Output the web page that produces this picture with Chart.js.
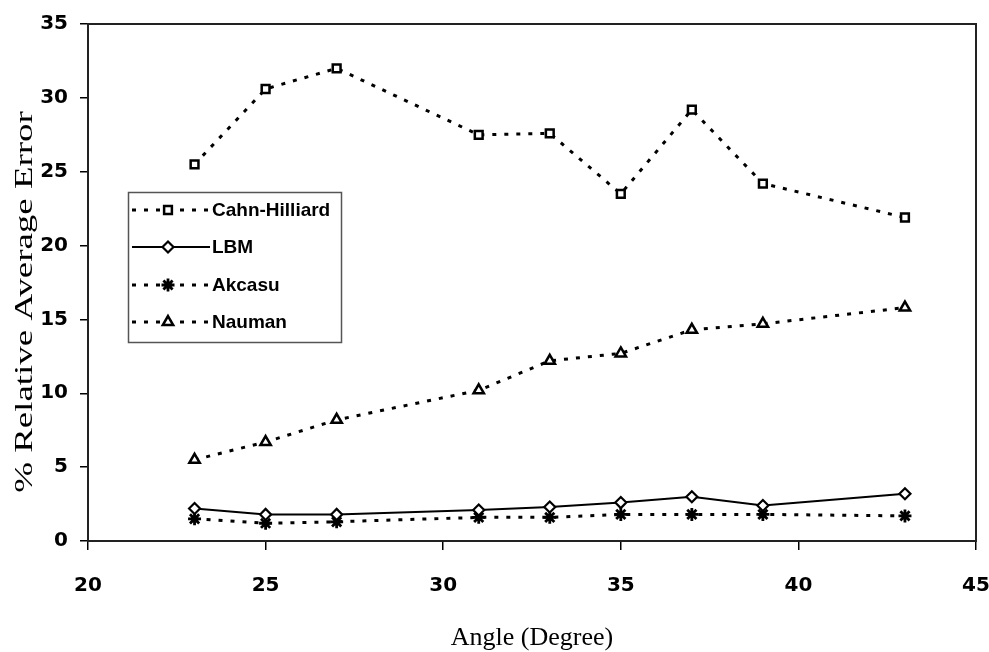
<!DOCTYPE html>
<html>
<head>
<meta charset="utf-8">
<title>Relative Average Error vs Angle</title>
<script src="https://cdn.jsdelivr.net/npm/chart.js@4.4.1/dist/chart.umd.min.js"></script>
<style>
  html, body { margin: 0; padding: 0; background: #fff; }
  canvas { display: block; }
</style>
</head>
<body>
<canvas id="chart" width="989" height="652"></canvas>
<script>
// Contact angle (degrees) at which each model was evaluated
const angles = [23, 25, 27, 31, 33, 35, 37, 39, 43];

// % relative average error for each model
const cahnHilliard = [25.5, 30.6, 32.0, 27.5, 27.6, 23.5, 29.2, 24.2, 21.9];
const lbm          = [2.2, 1.8, 1.8, 2.1, 2.3, 2.6, 3.0, 2.4, 3.2];
const akcasu       = [1.5, 1.2, 1.3, 1.6, 1.6, 1.8, 1.8, 1.8, 1.7];
const nauman       = [5.5, 6.7, 8.2, 10.2, 12.2, 12.7, 14.3, 14.7, 15.8];

const seriesNames = ['Cahn-Hilliard', 'LBM', 'Akcasu', 'Nauman'];

// Axis ticks
const xTicks = [20, 25, 30, 35, 40, 45];
const yTicks = [0, 5, 10, 15, 20, 25, 30, 35];

const xTitle = 'Angle (Degree)';
const yTitle = '% Relative Average Error';

const toPoints = vals => vals.map((v, i) => ({ x: angles[i], y: v }));

const tickFont = { family: '"DejaVu Sans", "Open Sans", sans-serif', size: 20, weight: 'bold' };
const DASH = [4, 8];

const datasets = [
  {
    label: seriesNames[0], data: toPoints(cahnHilliard),
    borderColor: '#000', borderWidth: 3, borderDash: DASH,
    pointStyle: 'rect', pointRadius: 5.5, pointBorderWidth: 2.5,
    pointBorderColor: '#000', pointBackgroundColor: '#fff'
  },
  {
    label: seriesNames[1], data: toPoints(lbm),
    borderColor: '#000', borderWidth: 2,
    pointStyle: 'rectRot', pointRadius: 5.5, pointBorderWidth: 2.2,
    pointBorderColor: '#000', pointBackgroundColor: '#fff'
  },
  {
    label: seriesNames[2], data: toPoints(akcasu),
    borderColor: '#000', borderWidth: 3, borderDash: DASH,
    pointStyle: 'star', pointRadius: 6.5, pointBorderWidth: 2.8,
    pointBorderColor: '#000', pointBackgroundColor: '#000'
  },
  {
    label: seriesNames[3], data: toPoints(nauman),
    borderColor: '#000', borderWidth: 3, borderDash: DASH,
    pointStyle: 'triangle', pointRadius: 6, pointBorderWidth: 2.5,
    pointBorderColor: '#000', pointBackgroundColor: '#fff'
  }
];

// Frame around the plot area, the in-plot legend and the axis titles
const decorations = {
  id: 'decorations',
  afterDatasetsDraw(chart) {
    const { ctx, chartArea: a } = chart;
    ctx.save();
    ctx.strokeStyle = '#222';
    ctx.lineWidth = 2;
    ctx.strokeRect(a.left, a.top, a.right - a.left, a.bottom - a.top);
    ctx.restore();
  },
  afterDraw(chart) {
    const { ctx } = chart;

    // Legend box
    const box = { x: 128.5, y: 192.5, w: 213, h: 150 };
    const rows = [210, 247, 285, 322];
    ctx.save();
    ctx.fillStyle = '#fff';
    ctx.fillRect(box.x, box.y, box.w, box.h);
    ctx.strokeStyle = '#555';
    ctx.lineWidth = 1.5;
    ctx.strokeRect(box.x, box.y, box.w, box.h);

    chart.data.datasets.forEach((ds, i) => {
      const y = rows[i];
      ctx.save();
      ctx.strokeStyle = ds.borderColor;
      ctx.lineWidth = ds.borderWidth;
      ctx.setLineDash(ds.borderDash || []);
      ctx.beginPath();
      ctx.moveTo(132, y);
      ctx.lineTo(210, y);
      ctx.stroke();
      ctx.restore();

      ctx.save();
      ctx.strokeStyle = ds.pointBorderColor;
      ctx.fillStyle = ds.pointBackgroundColor;
      ctx.lineWidth = ds.pointBorderWidth;
      Chart.helpers.drawPoint(ctx, {
        pointStyle: ds.pointStyle, radius: ds.pointRadius, rotation: 0, borderWidth: ds.pointBorderWidth
      }, 168, y);
      ctx.restore();

      ctx.save();
      ctx.fillStyle = '#000';
      ctx.font = 'bold 19px "Liberation Sans", Arial, sans-serif';
      ctx.textAlign = 'left';
      ctx.textBaseline = 'middle';
      ctx.fillText(ds.label, 212, y + 1);
      ctx.restore();
    });
    ctx.restore();

    // Axis titles
    ctx.save();
    ctx.fillStyle = '#000';
    ctx.font = '26px "Liberation Serif", "Times New Roman", serif';
    ctx.textAlign = 'center';
    ctx.textBaseline = 'alphabetic';
    ctx.fillText(xTitle, 532, 645);
    ctx.restore();

    // Vertical title, stretched along its reading direction
    ctx.save();
    ctx.fillStyle = '#000';
    ctx.font = '26px "Liberation Serif", "Times New Roman", serif';
    ctx.translate(32, 302);
    ctx.rotate(-Math.PI / 2);
    ctx.scale(1.42, 1);
    ctx.textAlign = 'center';
    ctx.textBaseline = 'alphabetic';
    ctx.fillText(yTitle, 0, 0);
    ctx.restore();
  }
};

new Chart(document.getElementById('chart'), {
  type: 'line',
  data: { datasets },
  plugins: [decorations],
  options: {
    responsive: false,
    animation: false,
    layout: { padding: { top: 24, right: 13, left: 0, bottom: 0 } },
    plugins: { legend: { display: false }, tooltip: { enabled: false } },
    elements: { line: { tension: 0, borderCapStyle: 'butt' } },
    scales: {
      x: {
        type: 'linear', min: 20, max: 45,
        afterBuildTicks: s => { s.ticks = xTicks.map(v => ({ value: v })); },
        afterFit: s => { s.height = 111; s.paddingLeft = 0; s.paddingRight = 0; },
        grid: { drawOnChartArea: false, drawTicks: true, tickLength: 9, color: '#000', lineWidth: 1.5 },
        border: { color: '#000', width: 2 },
        ticks: { font: tickFont, color: '#000', padding: 24, maxRotation: 0 }
      },
      y: {
        type: 'linear', min: 0, max: 35,
        afterBuildTicks: s => { s.ticks = yTicks.map(v => ({ value: v })); },
        afterFit: s => { s.width = 88; s.paddingTop = 0; s.paddingBottom = 0; },
        grid: { drawOnChartArea: false, drawTicks: true, tickLength: 8, color: '#000', lineWidth: 1.5 },
        border: { color: '#000', width: 2 },
        ticks: { font: tickFont, color: '#000', padding: 12 }
      }
    }
  }
});
</script>
</body>
</html>
